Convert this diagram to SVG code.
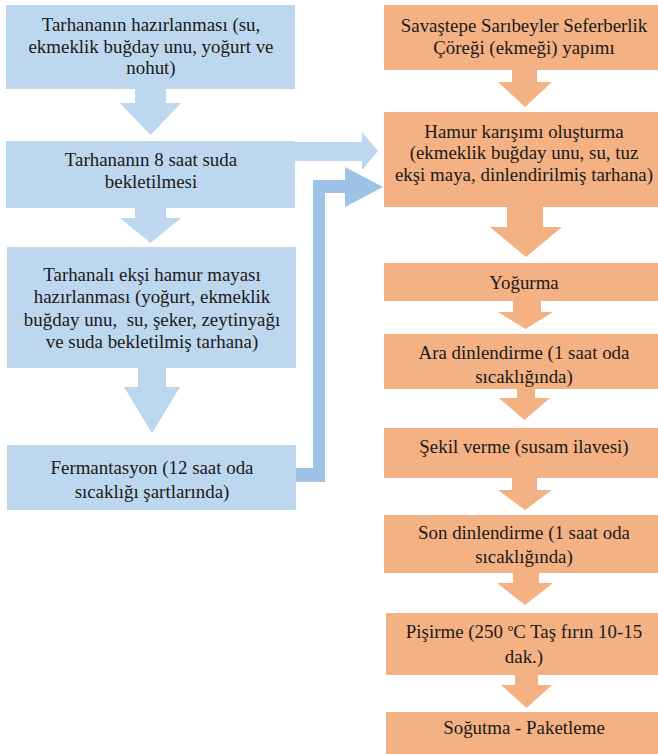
<svg xmlns="http://www.w3.org/2000/svg" width="658" height="754" viewBox="0 0 658 754">
<style>
.lb{fill:#BDD7EE}
.db{fill:#9DC3E6}
.or{fill:#F4B183}
text{font-family:"Liberation Serif","Times New Roman",serif;font-size:18.9px;fill:#1a1a1a;text-anchor:middle}
</style>
<rect width="658" height="754" fill="#fff"/>
<g id="connectors">
<polygon class="lb" points="135,88 166,88 166,103 181,103 150.5,135 120,103 135,103"/>
<polygon class="lb" points="135,207 166,207 166,218 181,218 150.5,243 120,218 135,218"/>
<polygon class="lb" points="138,367 166,367 166,387 180,387 152,433 124,387 138,387"/>
<polygon class="lb" points="294,142 362,142 362,132 378,151 362,170 362,161 294,161"/>
<polygon class="db" points="295,468 313,468 313,180 345,180 345,167 383,187 345,207 345,193 325,193 325,482 295,482"/>
<polygon class="or" points="512,69 537,69 537,82 552,82 525,107 498,82 512,82"/>
<polygon class="or" points="507,206 543,206 543,227 562,227 526,257 490,227 507,227"/>
<polygon class="or" points="513,300 541,300 541,312 553,312 525.5,329 498,312 513,312"/>
<polygon class="or" points="517,388 535,388 535,398 550,398 524.5,420 499,398 517,398"/>
<polygon class="or" points="512,477 537,477 537,490 552,490 525,510 498,490 512,490"/>
<polygon class="or" points="513,572 539,572 539,583 553,583 525,605 497,583 513,583"/>
<polygon class="or" points="515,674 538,674 538,685 552,685 526.5,708 501,685 515,685"/>
</g>
<g id="n1"><rect class="lb" x="6" y="5" width="289" height="84"/>
<text x="151" y="31">Tarhananın hazırlanması (su,</text>
<text x="151" y="53">ekmeklik buğday unu, yoğurt ve</text>
<text x="151" y="74">nohut)</text></g>
<g id="n2"><rect class="lb" x="6" y="141" width="289" height="67"/>
<text x="151" y="166">Tarhananın 8 saat suda</text>
<text x="151" y="188">bekletilmesi</text></g>
<g id="n3"><rect class="lb" x="7" y="247" width="289" height="121"/>
<text x="152" y="281">Tarhanalı ekşi hamur mayası</text>
<text x="152" y="303">hazırlanması (yoğurt, ekmeklik</text>
<text x="152" y="326" xml:space="preserve">buğday unu,  su, şeker, zeytinyağı</text>
<text x="152" y="348">ve suda bekletilmiş tarhana)</text></g>
<g id="n4"><rect class="lb" x="7" y="445" width="289" height="65"/>
<text x="152" y="474">Fermantasyon (12 saat oda</text>
<text x="152" y="498">sıcaklığı şartlarında)</text></g>
<g id="r1"><rect class="or" x="384" y="5" width="274" height="65"/>
<text x="524" y="32">Savaştepe Sarıbeyler Seferberlik</text>
<text x="524" y="54">Çöreği (ekmeği) yapımı</text></g>
<g id="r2"><rect class="or" x="384" y="112" width="274" height="95"/>
<text x="524" y="138">Hamur karışımı oluşturma</text>
<text x="524" y="159">(ekmeklik buğday unu, su, tuz</text>
<text x="524" y="181">ekşi maya, dinlendirilmiş tarhana)</text></g>
<g id="r3"><rect class="or" x="384" y="263" width="274" height="38"/>
<text x="524" y="289">Yoğurma</text></g>
<g id="r4"><rect class="or" x="384" y="334" width="274" height="55"/>
<text x="524" y="359">Ara dinlendirme (1 saat oda</text>
<text x="524" y="383">sıcaklığında)</text></g>
<g id="r5"><rect class="or" x="384" y="428" width="274" height="50"/>
<text x="524" y="453">Şekil verme (susam ilavesi)</text></g>
<g id="r6"><rect class="or" x="384" y="515" width="274" height="58"/>
<text x="524" y="539">Son dinlendirme (1 saat oda</text>
<text x="524" y="563">sıcaklığında)</text></g>
<g id="r7"><rect class="or" x="386" y="613" width="272" height="62"/>
<text x="524" y="638">Pişirme (250 <tspan font-size="11" dy="-7">o</tspan><tspan dy="7">C Taş fırın 10-15</tspan></text>
<text x="524" y="663">dak.)</text></g>
<g id="r8"><rect class="or" x="386" y="712" width="272" height="42"/>
<text x="524" y="734">Soğutma - Paketleme</text></g>
</svg>
